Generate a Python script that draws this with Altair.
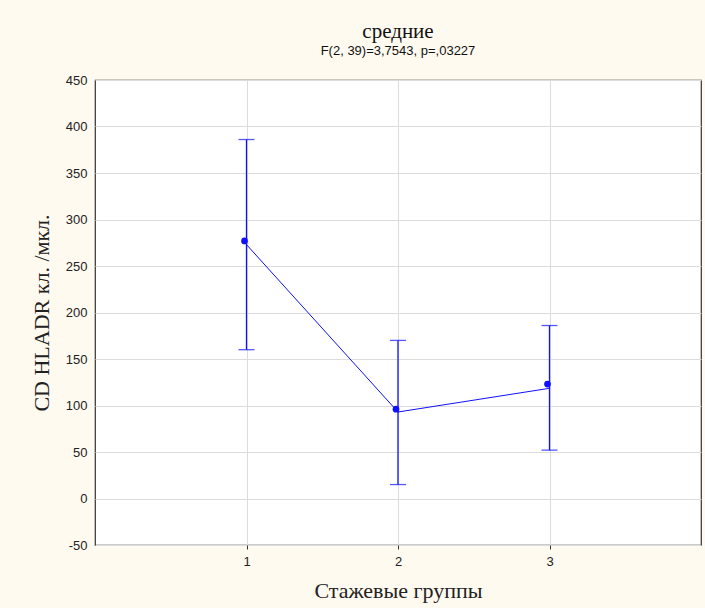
import altair as alt
import pandas as pd

groups = [1, 2, 3]
means = [277, 96, 123]
line_vals = [273, 93, 118.5]
upper = [386, 170, 186]
lower = [160, 15, 52]

df = pd.DataFrame({"g": groups, "m": means, "l": line_vals, "hi": upper, "lo": lower})

BLUE = "#1010ff"
SERIF = "Liberation Serif"
SANS = "Liberation Sans Narrow, Liberation Sans, Arial"

xs = alt.Scale(domain=[0, 4], nice=False, zero=False)
ys = alt.Scale(domain=[-50, 450], nice=False, zero=False)

x_axis = alt.Axis(values=[1, 2, 3], title="Стажевые группы", titleFont=SERIF, titleFontSize=22,
                  titleFontWeight="normal", titleColor="#222", titlePadding=12,
                  labelFont=SANS, labelFontSize=13, labelColor="#222", labelPadding=6,
                  tickSize=4, tickColor="#333", grid=True, gridColor="#dcdcdc",
                  domain=False, format="d")
y_axis = alt.Axis(values=list(range(-50, 451, 50)), title="CD HLADR  кл. /мкл.", titleFont=SERIF,
                  titleFontSize=22, titleFontWeight="normal", titleColor="#222", titlePadding=12,
                  labelFont=SANS, labelFontSize=13, labelColor="#222", labelPadding=8,
                  labelExpr="replace(datum.label, '\u2212', '-')",
                  ticks=False, grid=True, gridColor="#dcdcdc", domain=False, format="d")

base = alt.Chart(df)

line = base.mark_line(color=BLUE, strokeWidth=1).encode(
    x=alt.X("g:Q", scale=xs, axis=x_axis),
    y=alt.Y("l:Q", scale=ys, axis=y_axis),
)
rules = base.mark_rule(color=BLUE, strokeWidth=1.3).encode(
    x=alt.X("g:Q", scale=xs), y=alt.Y("lo:Q", scale=ys), y2="hi:Q"
)
cap_hi = base.mark_tick(color=BLUE, orient="horizontal", size=16, thickness=1.3).encode(
    x=alt.X("g:Q", scale=xs), y=alt.Y("hi:Q", scale=ys)
)
cap_lo = base.mark_tick(color=BLUE, orient="horizontal", size=16, thickness=1.3).encode(
    x=alt.X("g:Q", scale=xs), y=alt.Y("lo:Q", scale=ys)
)
pts = base.mark_point(color=BLUE, filled=True, opacity=1, size=45, xOffset=-2).encode(
    x=alt.X("g:Q", scale=xs), y=alt.Y("m:Q", scale=ys)
)

chart = alt.layer(line, rules, cap_hi, cap_lo, pts).properties(
    width=606, height=465,
    title=alt.TitleParams(text="средние", subtitle="F(2, 39)=3,7543, p=,03227",
                          font=SERIF, fontSize=21, fontWeight="normal", color="#111",
                          subtitleFont=SANS, subtitleFontSize=13, subtitleColor="#111",
                          subtitlePadding=3, anchor="middle", offset=16),
    autosize=alt.AutoSizeParams(type="none"),
    padding={"left": 95, "top": 80, "right": 4, "bottom": 63},
    background="#fffaef",
).configure_view(fill="white", stroke="#333", strokeWidth=1.2)

chart.save("out.html", embed_options={"renderer": "svg", "actions": False})
